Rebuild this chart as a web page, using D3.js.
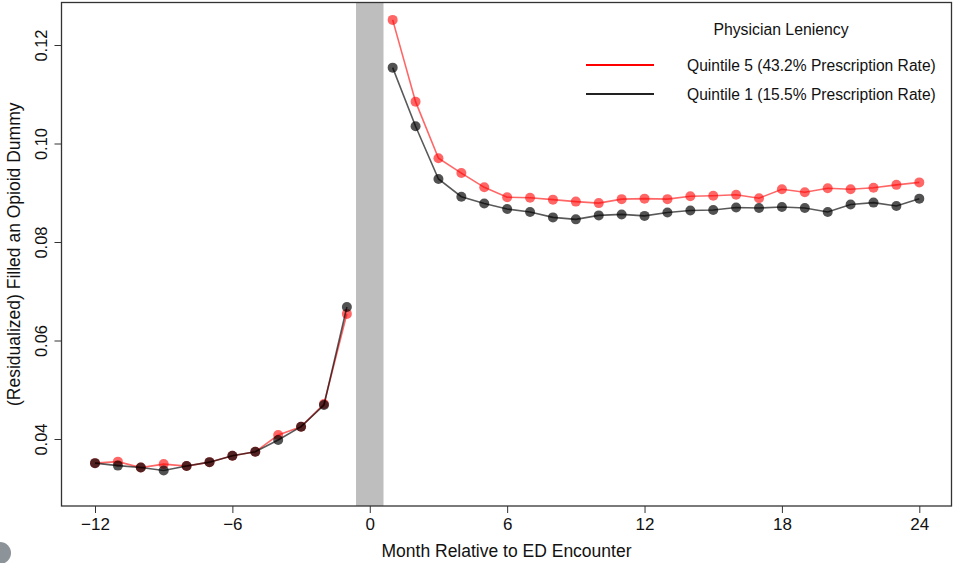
<!DOCTYPE html>
<html>
<head>
<meta charset="utf-8">
<script src="https://cdn.jsdelivr.net/npm/d3@7"></script>
<style>
  body { margin: 0; background: #fff; }
  svg { display: block; font-family: "Liberation Sans", Arial, sans-serif; }
</style>
</head>
<body>
<svg id="chart" width="953" height="563"></svg>
<script>
// months relative to ED encounter
const monthsPre = [-12, -11, -10, -9, -8, -7, -6, -5, -4, -3, -2, -1];
const monthsPost = [1, 2, 3, 4, 5, 6, 7, 8, 9, 10, 11, 12, 13, 14, 15, 16, 17, 18, 19, 20, 21, 22, 23, 24];

// Quintile 5 (lenient physicians)
const q5Pre = [0.0351, 0.0354, 0.0342, 0.0349, 0.0345, 0.0353, 0.0366, 0.0374, 0.0408, 0.0425, 0.0471, 0.0654];
const q5Post = [0.1251, 0.1085, 0.0970, 0.0940, 0.0911, 0.0891, 0.0890, 0.0886, 0.0882, 0.0879, 0.0887, 0.0888,
                0.0887, 0.0893, 0.0894, 0.0896, 0.0889, 0.0907, 0.0901, 0.0909, 0.0907, 0.0910, 0.0916, 0.0921];

// Quintile 1 (strict physicians)
const q1Pre = [0.0351, 0.0346, 0.0342, 0.0336, 0.0345, 0.0353, 0.0366, 0.0374, 0.0398, 0.0425, 0.0469, 0.0668];
const q1Post = [0.1154, 0.1035, 0.0928, 0.0892, 0.0878, 0.0867, 0.0861, 0.0850, 0.0846, 0.0854, 0.0856, 0.0853,
                0.0860, 0.0864, 0.0865, 0.0870, 0.0869, 0.0871, 0.0869, 0.0861, 0.0876, 0.0880, 0.0873, 0.0888];

const xTicks = [-12, -6, 0, 6, 12, 18, 24];
const yTicks = [0.04, 0.06, 0.08, 0.10, 0.12];

const legendTitle = "Physician Leniency";
const legendLabels = ["Quintile 5 (43.2% Prescription Rate)", "Quintile 1 (15.5% Prescription Rate)"];

const svg = d3.select("#chart");

const box = {left: 61.5, right: 951.5, top: 2.5, bottom: 506};

const x = d3.scaleLinear()
    .domain([-12, 24])
    .range([95, 919.3]);

const y = d3.scaleLinear()
    .domain([0.04, 0.12])
    .range([439, 45]);

// gray band around month 0
svg.append("rect")
    .attr("x", x(-0.6))
    .attr("y", box.top)
    .attr("width", x(0.6) - x(-0.6))
    .attr("height", box.bottom - box.top)
    .attr("fill", "#bebebe");

// plot frame
svg.append("rect")
    .attr("x", box.left)
    .attr("y", box.top)
    .attr("width", box.right - box.left)
    .attr("height", box.bottom - box.top)
    .attr("fill", "none")
    .attr("stroke", "#333")
    .attr("stroke-width", 1.3);

// x axis
const xAxis = svg.append("g")
    .attr("transform", `translate(0,${box.bottom})`)
    .call(d3.axisBottom(x).tickValues(xTicks).tickSize(7).tickSizeOuter(0)
      .tickFormat(d => d < 0 ? "\u2212" + Math.abs(d) : d));
xAxis.select(".domain").remove();
xAxis.selectAll(".tick line").attr("stroke", "#333");
xAxis.selectAll(".tick text")
    .attr("font-size", 17)
    .attr("font-family", "Liberation Sans, Arial, sans-serif")
    .attr("fill", "#111")
    .attr("y", 10)
    .attr("dy", "0.8em");

// y axis
const yAxis = svg.append("g")
    .attr("transform", `translate(${box.left},0)`)
    .call(d3.axisLeft(y).tickValues(yTicks).tickSize(7).tickFormat(d3.format(".2f")));
yAxis.select(".domain").remove();
yAxis.selectAll(".tick line").attr("stroke", "#333");
yAxis.selectAll(".tick text")
    .attr("font-size", 16.5)
    .attr("font-family", "Liberation Sans, Arial, sans-serif")
    .attr("fill", "#111")
    .attr("text-anchor", "middle")
    .attr("x", 0)
    .attr("dy", 0)
    .attr("transform", "translate(-15,0) rotate(-90)");

// axis titles
svg.append("text")
    .attr("x", (box.left + box.right) / 2)
    .attr("y", 557)
    .attr("text-anchor", "middle")
    .attr("font-size", 17.5)
    .attr("fill", "#111")
    .text("Month Relative to ED Encounter");

svg.append("text")
    .attr("transform", `translate(20,${(box.top + box.bottom) / 2}) rotate(-90)`)
    .attr("text-anchor", "middle")
    .attr("font-size", 17.5)
    .attr("fill", "#111")
    .text("(Residualized) Filled an Opioid Dummy");

// series: red drawn first, black on top
const series = [
  {pre: q5Pre, post: q5Post, color: "rgba(255,0,0,0.6)", lineColor: "rgba(255,0,0,0.6)"},
  {pre: q1Pre, post: q1Post, color: "rgba(0,0,0,0.68)", lineColor: "rgba(0,0,0,0.65)"}
];

const line = d3.line()
    .x(d => x(d.m))
    .y(d => y(d.v));

series.forEach(function(s) {
  const preData = monthsPre.map((m, i) => ({m: m, v: s.pre[i]}));
  const postData = monthsPost.map((m, i) => ({m: m, v: s.post[i]}));
  [preData, postData].forEach(function(data) {
    svg.append("path")
        .datum(data)
        .attr("d", line)
        .attr("fill", "none")
        .attr("stroke", s.lineColor)
        .attr("stroke-width", 1.6);
    svg.append("g")
      .selectAll("circle")
      .data(data)
      .join("circle")
        .attr("cx", d => x(d.m))
        .attr("cy", d => y(d.v))
        .attr("r", 5)
        .attr("fill", s.color);
  });
});

// legend
svg.append("text")
    .attr("x", 781)
    .attr("y", 35)
    .attr("text-anchor", "middle")
    .attr("font-size", 15.8)
    .attr("fill", "#111")
    .text(legendTitle);

const legendColors = ["#ff0000", "#222"];
legendLabels.forEach(function(lbl, i) {
  const ly = 65 + i * 29;
  svg.append("line")
      .attr("x1", 586).attr("x2", 654)
      .attr("y1", ly).attr("y2", ly)
      .attr("stroke", legendColors[i])
      .attr("stroke-width", 2);
  svg.append("text")
      .attr("x", 687)
      .attr("y", ly + 6)
      .attr("font-size", 15.6)
      .attr("fill", "#111")
      .text(lbl);
});

// small grey dot at bottom-left corner of the screenshot
svg.append("circle")
    .attr("cx", 0)
    .attr("cy", 553)
    .attr("r", 11)
    .attr("fill", "#8c9399");
</script>
</body>
</html>
